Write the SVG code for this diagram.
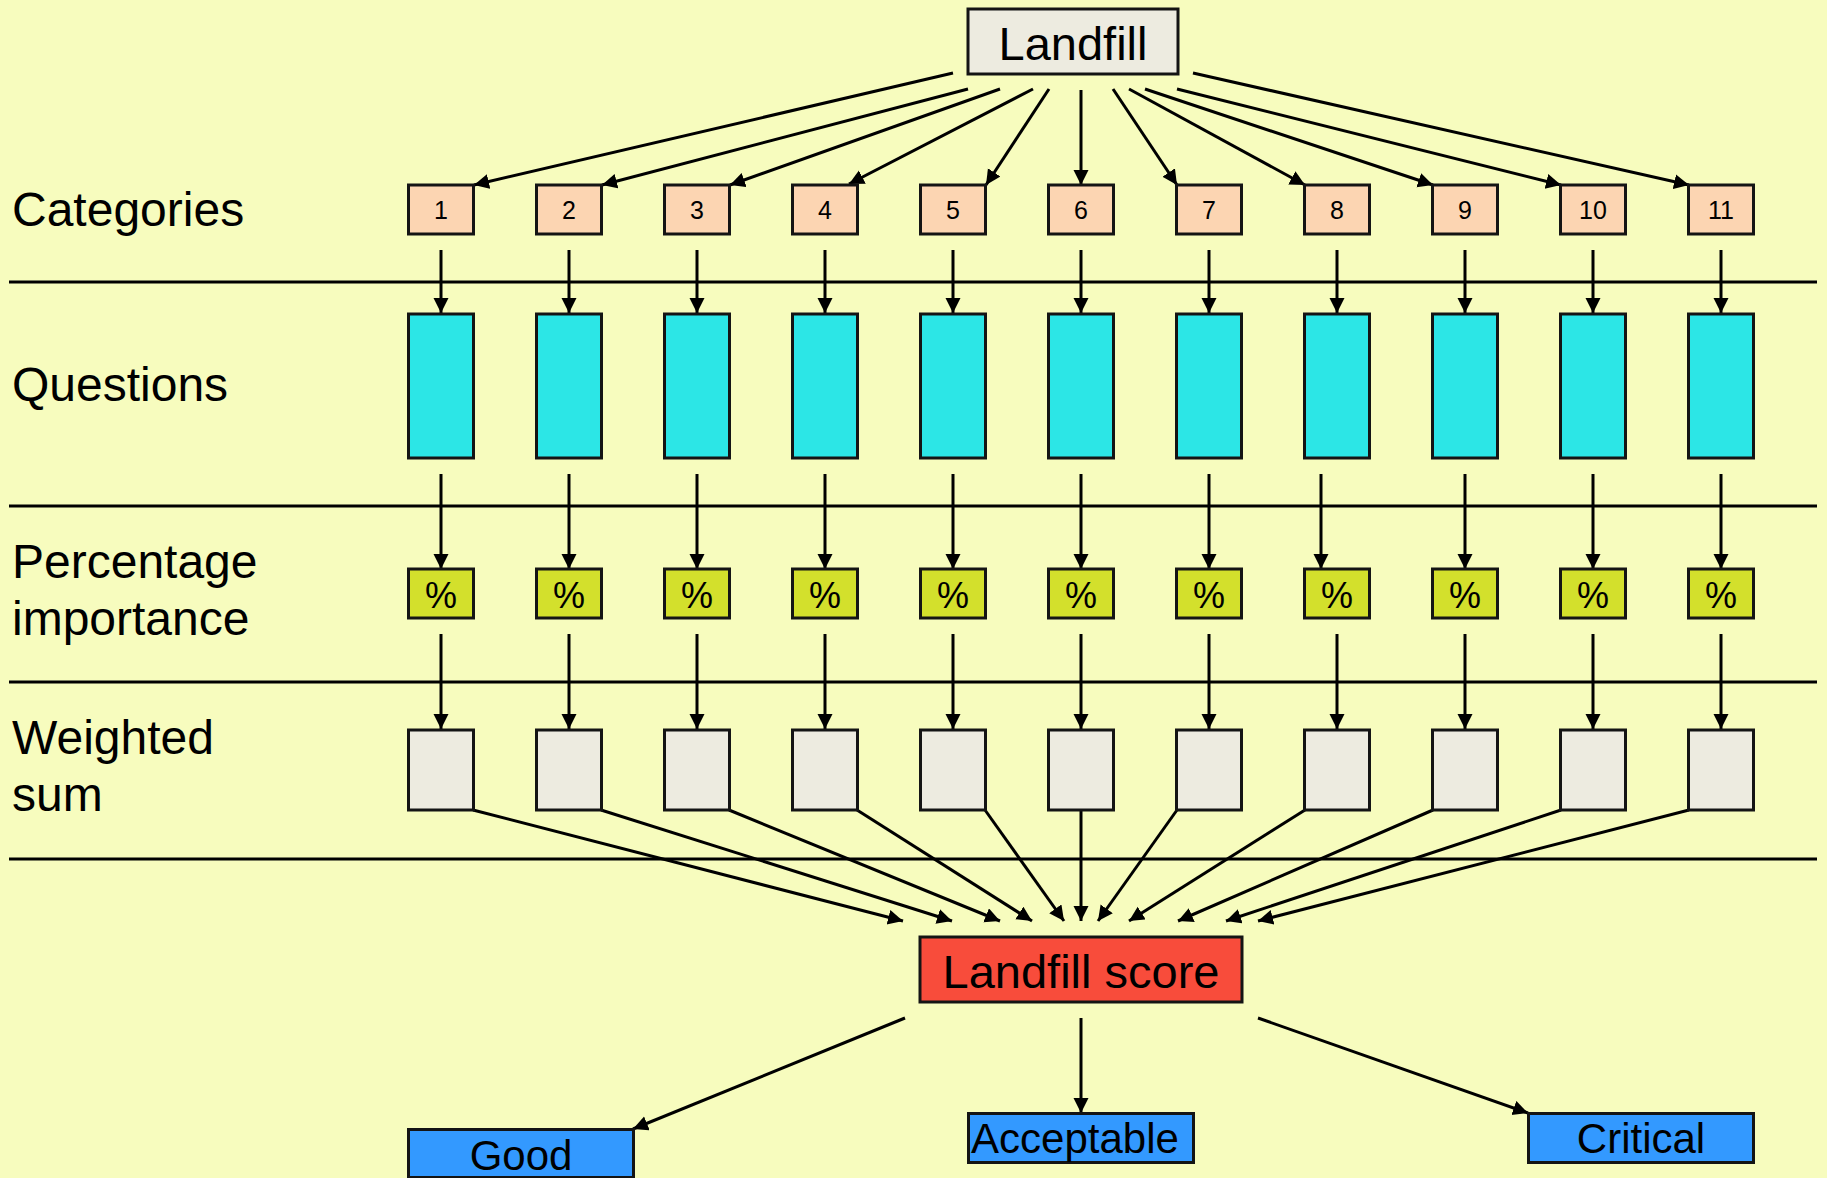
<svg xmlns="http://www.w3.org/2000/svg" width="1827" height="1178" viewBox="0 0 1827 1178">
  <style>
    .box { stroke: #141414; stroke-width: 3; }
    .cat { fill: #FCD5B2; }
    .q { fill: #2CE6E6; }
    .pct { fill: #D3E02C; }
    .ws { fill: #EDEBE0; }
    .score { fill: #F84C3B; }
    .res { fill: #3399FF; }
    .t { font-family: "Liberation Sans", Arial, sans-serif; fill: #000; }
    .lbl { font-size: 48px; }
    .num { font-size: 25px; text-anchor: middle; }
    .pc { font-size: 36px; text-anchor: middle; }
    .big { font-size: 47px; text-anchor: middle; }
    .res-t { font-size: 42px; text-anchor: middle; }
    .sep { stroke: #000; stroke-width: 3; }
    .edge { stroke: #000; stroke-width: 3; fill: none; marker-end: url(#arrow); }
  </style>
  <defs>
    <marker id="arrow" markerUnits="userSpaceOnUse" markerWidth="16" markerHeight="16" refX="15" refY="7.5" orient="auto">
      <path d="M0,0 L15,7.5 L0,15 z" fill="#000"/>
    </marker>
  </defs>

  <rect width="1827" height="1178" fill="#F7FCBE"/>

  <!-- row separators -->
  <g id="separators">
    <line class="sep" x1="9" y1="282" x2="1817" y2="282"/>
    <line class="sep" x1="9" y1="506" x2="1817" y2="506"/>
    <line class="sep" x1="9" y1="682" x2="1817" y2="682"/>
    <line class="sep" x1="9" y1="859" x2="1817" y2="859"/>
  </g>

  <!-- row labels -->
  <g id="row-labels" class="t lbl">
    <text x="12" y="226">Categories</text>
    <text x="12" y="401">Questions</text>
    <text x="12" y="578">Percentage</text>
    <text x="12" y="635">importance</text>
    <text x="12" y="754">Weighted</text>
    <text x="12" y="811">sum</text>
  </g>

  <!-- connectors -->
  <g id="connectors">
    <!-- Landfill to categories -->
    <line class="edge" x1="953" y1="73" x2="474" y2="185"/>
    <line class="edge" x1="968" y1="89" x2="602" y2="185"/>
    <line class="edge" x1="1000" y1="89" x2="730" y2="185"/>
    <line class="edge" x1="1033" y1="89" x2="849" y2="184"/>
    <line class="edge" x1="1049" y1="89" x2="986" y2="185"/>
    <line class="edge" x1="1081" y1="90" x2="1081" y2="185"/>
    <line class="edge" x1="1113" y1="89" x2="1177" y2="185"/>
    <line class="edge" x1="1129" y1="89" x2="1305" y2="185"/>
    <line class="edge" x1="1145" y1="89" x2="1433" y2="185"/>
    <line class="edge" x1="1177" y1="89" x2="1561" y2="185"/>
    <line class="edge" x1="1193" y1="73" x2="1689" y2="185"/>

    <!-- categories to questions -->
    <line class="edge" x1="441" y1="250" x2="441" y2="313"/>
    <line class="edge" x1="569" y1="250" x2="569" y2="313"/>
    <line class="edge" x1="697" y1="250" x2="697" y2="313"/>
    <line class="edge" x1="825" y1="250" x2="825" y2="313"/>
    <line class="edge" x1="953" y1="250" x2="953" y2="313"/>
    <line class="edge" x1="1081" y1="250" x2="1081" y2="313"/>
    <line class="edge" x1="1209" y1="250" x2="1209" y2="313"/>
    <line class="edge" x1="1337" y1="250" x2="1337" y2="313"/>
    <line class="edge" x1="1465" y1="250" x2="1465" y2="313"/>
    <line class="edge" x1="1593" y1="250" x2="1593" y2="313"/>
    <line class="edge" x1="1721" y1="250" x2="1721" y2="313"/>

    <!-- questions to percentages -->
    <line class="edge" x1="441" y1="474" x2="441" y2="569"/>
    <line class="edge" x1="569" y1="474" x2="569" y2="569"/>
    <line class="edge" x1="697" y1="474" x2="697" y2="569"/>
    <line class="edge" x1="825" y1="474" x2="825" y2="569"/>
    <line class="edge" x1="953" y1="474" x2="953" y2="569"/>
    <line class="edge" x1="1081" y1="474" x2="1081" y2="569"/>
    <line class="edge" x1="1209" y1="474" x2="1209" y2="569"/>
    <line class="edge" x1="1321" y1="474" x2="1321" y2="569"/>
    <line class="edge" x1="1465" y1="474" x2="1465" y2="569"/>
    <line class="edge" x1="1593" y1="474" x2="1593" y2="569"/>
    <line class="edge" x1="1721" y1="474" x2="1721" y2="569"/>

    <!-- percentages to weighted sums -->
    <line class="edge" x1="441" y1="634" x2="441" y2="729"/>
    <line class="edge" x1="569" y1="634" x2="569" y2="729"/>
    <line class="edge" x1="697" y1="634" x2="697" y2="729"/>
    <line class="edge" x1="825" y1="634" x2="825" y2="729"/>
    <line class="edge" x1="953" y1="634" x2="953" y2="729"/>
    <line class="edge" x1="1081" y1="634" x2="1081" y2="729"/>
    <line class="edge" x1="1209" y1="634" x2="1209" y2="729"/>
    <line class="edge" x1="1337" y1="634" x2="1337" y2="729"/>
    <line class="edge" x1="1465" y1="634" x2="1465" y2="729"/>
    <line class="edge" x1="1593" y1="634" x2="1593" y2="729"/>
    <line class="edge" x1="1721" y1="634" x2="1721" y2="729"/>

    <!-- weighted sums to score -->
    <line class="edge" x1="473" y1="810" x2="903" y2="921"/>
    <line class="edge" x1="601" y1="810" x2="952" y2="921"/>
    <line class="edge" x1="729" y1="810" x2="1000" y2="921"/>
    <line class="edge" x1="857" y1="810" x2="1032" y2="921"/>
    <line class="edge" x1="985" y1="810" x2="1064" y2="921"/>
    <line class="edge" x1="1081" y1="810" x2="1081" y2="921"/>
    <line class="edge" x1="1177" y1="810" x2="1098" y2="921"/>
    <line class="edge" x1="1305" y1="810" x2="1129" y2="921"/>
    <line class="edge" x1="1433" y1="810" x2="1178" y2="921"/>
    <line class="edge" x1="1561" y1="810" x2="1226" y2="921"/>
    <line class="edge" x1="1689" y1="810" x2="1258" y2="921"/>

    <!-- score to outcomes -->
    <line class="edge" x1="905" y1="1018" x2="633" y2="1129"/>
    <line class="edge" x1="1081" y1="1018" x2="1081" y2="1113"/>
    <line class="edge" x1="1258" y1="1018" x2="1528" y2="1113"/>
  </g>

  <!-- top node -->
  <g id="landfill">
    <rect class="box ws" x="968" y="9" width="210" height="65"/>
    <text class="t big" x="1073" y="60">Landfill</text>
  </g>

  <!-- categories -->
  <g id="categories">
    <g id="cat-1"><rect class="box cat" x="408.5" y="185" width="65" height="49"/><text class="t num" x="441" y="219">1</text></g>
    <g id="cat-2"><rect class="box cat" x="536.5" y="185" width="65" height="49"/><text class="t num" x="569" y="219">2</text></g>
    <g id="cat-3"><rect class="box cat" x="664.5" y="185" width="65" height="49"/><text class="t num" x="697" y="219">3</text></g>
    <g id="cat-4"><rect class="box cat" x="792.5" y="185" width="65" height="49"/><text class="t num" x="825" y="219">4</text></g>
    <g id="cat-5"><rect class="box cat" x="920.5" y="185" width="65" height="49"/><text class="t num" x="953" y="219">5</text></g>
    <g id="cat-6"><rect class="box cat" x="1048.5" y="185" width="65" height="49"/><text class="t num" x="1081" y="219">6</text></g>
    <g id="cat-7"><rect class="box cat" x="1176.5" y="185" width="65" height="49"/><text class="t num" x="1209" y="219">7</text></g>
    <g id="cat-8"><rect class="box cat" x="1304.5" y="185" width="65" height="49"/><text class="t num" x="1337" y="219">8</text></g>
    <g id="cat-9"><rect class="box cat" x="1432.5" y="185" width="65" height="49"/><text class="t num" x="1465" y="219">9</text></g>
    <g id="cat-10"><rect class="box cat" x="1560.5" y="185" width="65" height="49"/><text class="t num" x="1593" y="219">10</text></g>
    <g id="cat-11"><rect class="box cat" x="1688.5" y="185" width="65" height="49"/><text class="t num" x="1721" y="219">11</text></g>
  </g>

  <!-- question blocks -->
  <g id="questions">
    <rect id="q-1" class="box q" x="408.5" y="314" width="65" height="144"/>
    <rect id="q-2" class="box q" x="536.5" y="314" width="65" height="144"/>
    <rect id="q-3" class="box q" x="664.5" y="314" width="65" height="144"/>
    <rect id="q-4" class="box q" x="792.5" y="314" width="65" height="144"/>
    <rect id="q-5" class="box q" x="920.5" y="314" width="65" height="144"/>
    <rect id="q-6" class="box q" x="1048.5" y="314" width="65" height="144"/>
    <rect id="q-7" class="box q" x="1176.5" y="314" width="65" height="144"/>
    <rect id="q-8" class="box q" x="1304.5" y="314" width="65" height="144"/>
    <rect id="q-9" class="box q" x="1432.5" y="314" width="65" height="144"/>
    <rect id="q-10" class="box q" x="1560.5" y="314" width="65" height="144"/>
    <rect id="q-11" class="box q" x="1688.5" y="314" width="65" height="144"/>
  </g>

  <!-- percentage weights -->
  <g id="percentages">
    <g id="pct-1"><rect class="box pct" x="408.5" y="569" width="65" height="49"/><text class="t pc" x="441" y="608">%</text></g>
    <g id="pct-2"><rect class="box pct" x="536.5" y="569" width="65" height="49"/><text class="t pc" x="569" y="608">%</text></g>
    <g id="pct-3"><rect class="box pct" x="664.5" y="569" width="65" height="49"/><text class="t pc" x="697" y="608">%</text></g>
    <g id="pct-4"><rect class="box pct" x="792.5" y="569" width="65" height="49"/><text class="t pc" x="825" y="608">%</text></g>
    <g id="pct-5"><rect class="box pct" x="920.5" y="569" width="65" height="49"/><text class="t pc" x="953" y="608">%</text></g>
    <g id="pct-6"><rect class="box pct" x="1048.5" y="569" width="65" height="49"/><text class="t pc" x="1081" y="608">%</text></g>
    <g id="pct-7"><rect class="box pct" x="1176.5" y="569" width="65" height="49"/><text class="t pc" x="1209" y="608">%</text></g>
    <g id="pct-8"><rect class="box pct" x="1304.5" y="569" width="65" height="49"/><text class="t pc" x="1337" y="608">%</text></g>
    <g id="pct-9"><rect class="box pct" x="1432.5" y="569" width="65" height="49"/><text class="t pc" x="1465" y="608">%</text></g>
    <g id="pct-10"><rect class="box pct" x="1560.5" y="569" width="65" height="49"/><text class="t pc" x="1593" y="608">%</text></g>
    <g id="pct-11"><rect class="box pct" x="1688.5" y="569" width="65" height="49"/><text class="t pc" x="1721" y="608">%</text></g>
  </g>

  <!-- weighted sums -->
  <g id="weighted">
    <rect id="ws-1" class="box ws" x="408.5" y="730" width="65" height="80"/>
    <rect id="ws-2" class="box ws" x="536.5" y="730" width="65" height="80"/>
    <rect id="ws-3" class="box ws" x="664.5" y="730" width="65" height="80"/>
    <rect id="ws-4" class="box ws" x="792.5" y="730" width="65" height="80"/>
    <rect id="ws-5" class="box ws" x="920.5" y="730" width="65" height="80"/>
    <rect id="ws-6" class="box ws" x="1048.5" y="730" width="65" height="80"/>
    <rect id="ws-7" class="box ws" x="1176.5" y="730" width="65" height="80"/>
    <rect id="ws-8" class="box ws" x="1304.5" y="730" width="65" height="80"/>
    <rect id="ws-9" class="box ws" x="1432.5" y="730" width="65" height="80"/>
    <rect id="ws-10" class="box ws" x="1560.5" y="730" width="65" height="80"/>
    <rect id="ws-11" class="box ws" x="1688.5" y="730" width="65" height="80"/>
  </g>

  <!-- overall score -->
  <g id="landfill-score">
    <rect class="box score" x="920" y="937" width="322" height="65"/>
    <text class="t big" x="1081" y="988">Landfill score</text>
  </g>

  <!-- outcomes -->
  <g id="good">
    <rect class="box res" x="408.5" y="1129.5" width="225" height="48"/>
    <text class="t res-t" x="521" y="1170">Good</text>
  </g>
  <g id="acceptable">
    <rect class="box res" x="968.5" y="1113.5" width="225" height="49"/>
    <text class="t res-t" x="1075" y="1153">Acceptable</text>
  </g>
  <g id="critical">
    <rect class="box res" x="1528.5" y="1113.5" width="225" height="49"/>
    <text class="t res-t" x="1641" y="1153">Critical</text>
  </g>
</svg>
